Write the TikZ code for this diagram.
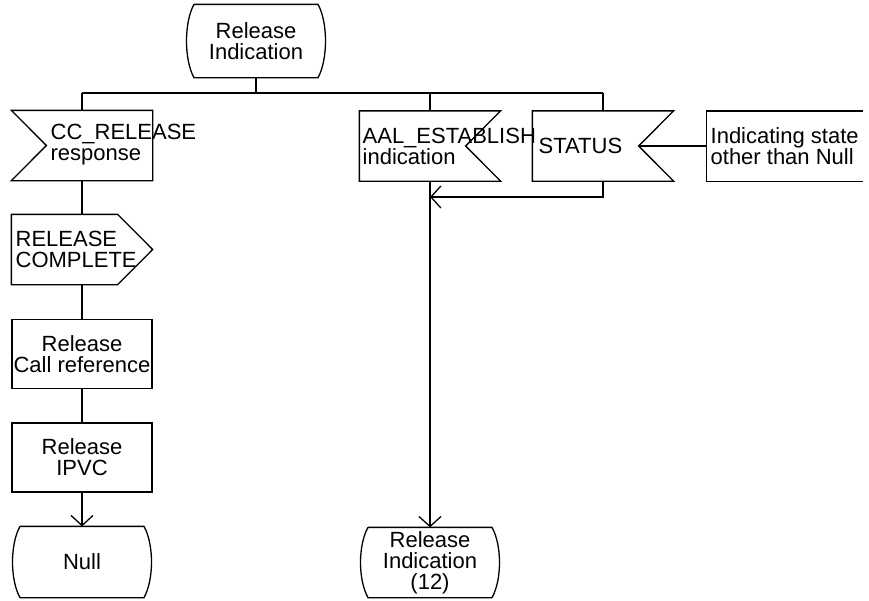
\documentclass[tikz,border=0pt]{standalone}
\usepackage{fontspec}
\setmainfont{Liberation Sans}
\usetikzlibrary{arrows.meta}
\newcommand{\statesym}[1]{\draw ([xshift=-62pt]#1.north) -- ([xshift=62pt]#1.north)
  .. controls +(10,18) and +(10,-18) .. ([xshift=62pt]#1.south) -- ([xshift=-62pt]#1.south)
  .. controls +(-10,-18) and +(-10,18) .. ([xshift=-62pt]#1.north);}
\begin{document}
\begin{tikzpicture}[x=1pt,y=-1pt,line width=1.3pt,
  every node/.style={inner sep=0pt,font=\fontsize{22pt}{21pt}\selectfont},
  sym/.style={minimum width=140pt,minimum height=69pt,align=center},
  box/.style={sym,draw},
  lbl/.style={anchor=west,align=left},
  arr/.style={-{Straight Barb[length=10pt,width=22pt]}}]
\useasboundingbox (0,0) rectangle (869,600);
% left branch
\node[sym,minimum height=72pt] (relind) at (256,41) {Release\\Indication};
\statesym{relind}
\node[sym] (ccrel) at (82,145.5) {};
\draw (ccrel.north west) -- (ccrel.north east) -- (ccrel.south east) -- (ccrel.south west) -- ([xshift=35pt]ccrel.west) -- cycle;
\node[lbl] (ccreltxt) at (50,145) {CC\_RELEASE\\response};
\node[sym] (relcomp) at (82,249.5) {};
\draw (relcomp.north west) -- ([xshift=-35pt]relcomp.north east) -- (relcomp.east) -- ([xshift=-35pt]relcomp.south east) -- (relcomp.south west) -- cycle;
\node[lbl] (relcomptxt) at (15,249.5) {RELEASE\\COMPLETE};
\node[box] (relcref) at (82,354) {Release\\Call reference};
\node[box] (relipvc) at (82,457.5) {Release\\IPVC};
\node[sym,minimum height=70pt] (null) at (82,562) {Null};
\statesym{null}
% right branch
\node[sym] (aalest) at (430,146) {};
\draw (aalest.north west) -- (aalest.north east) -- ([xshift=-35pt]aalest.east) -- (aalest.south east) -- (aalest.south west) -- cycle;
\node[lbl] (aalesttxt) at (362,146) {AAL\_ESTABLISH\\indication};
\node[sym] (status) at (603,146) {};
\draw (status.north west) -- (status.north east) -- ([xshift=-35pt]status.east) -- (status.south east) -- (status.south west) -- cycle;
\node[lbl] (statustxt) at (538,146) {STATUS};
\node[sym,minimum width=155pt] (indstate) at (784.5,146) {};
\draw (indstate.north east) -- (indstate.north west) -- (indstate.south west) -- (indstate.south east);
\node[lbl] (indstatetxt) at (710,146) {Indicating state\\other than Null};
\node[sym] (relind12) at (430,562.5) {Release\\Indication\\(12)};
\statesym{relind12}
% connectors
\coordinate (busl) at (82,93);
\coordinate (busr) at (603,93);
\coordinate (loop) at (603,197);
\draw (relind.south) -- (relind.south |- busl);
\draw (busl) -- (busr);
\draw[line width=2pt] (relind.south |- busl) -- (aalest.north |- busl);
\draw (busl) -- (ccrel.north);
\draw (ccrel.south) -- (relcomp.north);
\draw (relcomp.south) -- (relcref.north);
\draw (relcref.south) -- (relipvc.north);
\draw[arr] (relipvc.south) -- (null.north);
\draw (aalest.north |- busl) -- (aalest.north);
\draw (busr) -- (status.north);
\draw[arr] (status.south) -- (loop) -- (aalest.south |- loop);
\draw ([xshift=-35pt]status.east) -- (indstate.west);
\draw[arr] (aalest.south) -- (relind12.north);
\end{tikzpicture}
\end{document}
